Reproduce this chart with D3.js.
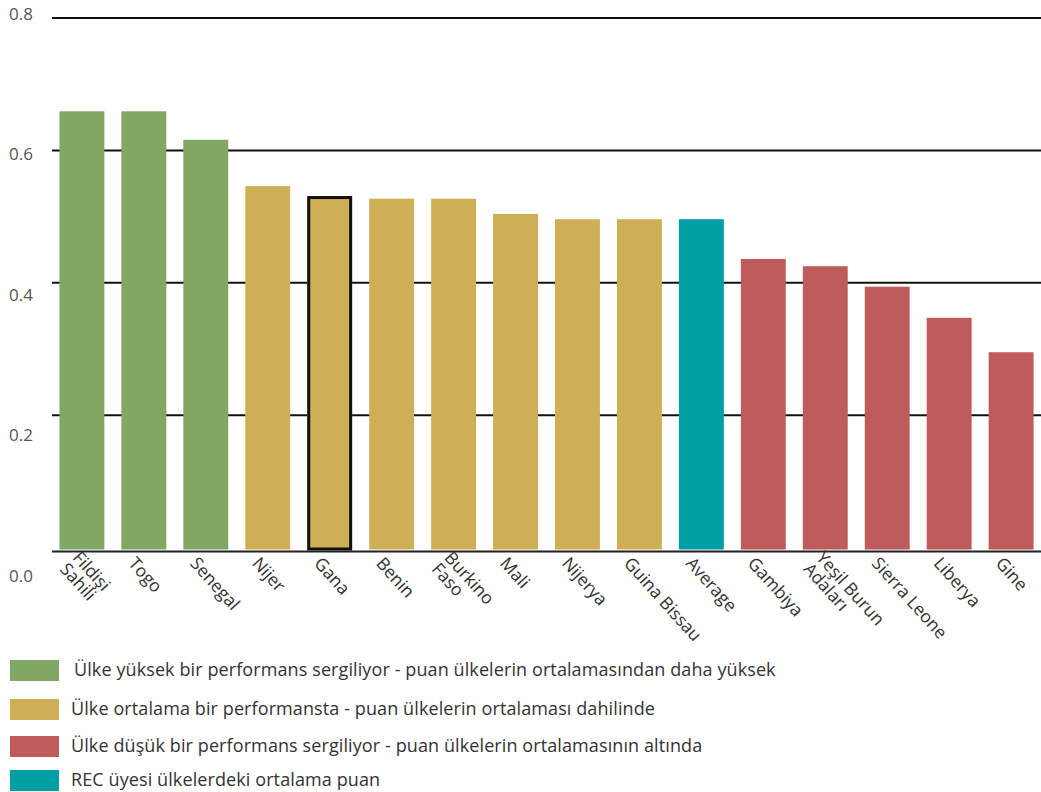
<!DOCTYPE html>
<html>
<head>
<meta charset="utf-8">
<script src="https://cdn.jsdelivr.net/npm/d3@7"></script>
<style>
  html, body { margin: 0; padding: 0; background: #fff; }
  svg { display: block; font-family: "Open Sans", Roboto, sans-serif; }
</style>
</head>
<body>
<svg id="chart" width="1041" height="792"></svg>
<script>
const categories = ["Fildişi Sahili", "Togo", "Senegal", "Nijer", "Gana", "Benin", "Burkino Faso", "Mali", "Nijerya", "Guina Bissau", "Average", "Gambiya", "Yeşil Burun Adaları", "Sierra Leone", "Liberya", "Gine"];
const labelLines = [["Fildişi", "Sahili"], ["Togo"], ["Senegal"], ["Nijer"], ["Gana"], ["Benin"], ["Burkino", "Faso"], ["Mali"], ["Nijerya"], ["Guina Bissau"], ["Average"], ["Gambiya"], ["Yeşil Burun", "Adaları"], ["Sierra Leone"], ["Liberya"], ["Gine"]];
const values = [0.659, 0.659, 0.616, 0.546, 0.531, 0.527, 0.527, 0.504, 0.496, 0.496, 0.496, 0.436, 0.425, 0.394, 0.347, 0.295];
const groups = ["high", "high", "high", "mid", "mid", "mid", "mid", "mid", "mid", "mid", "avg", "low", "low", "low", "low", "low"];
const highlighted = ["Gana"];
const yTicks = [0, 0.2, 0.4, 0.6, 0.8];
const yTickLabels = ["0.0", "0.2", "0.4", "0.6", "0.8"];
const legendKeys = ["high", "mid", "low", "avg"];
const legendLabels = [
  "Ülke yüksek bir performans sergiliyor - puan ülkelerin ortalamasından daha yüksek",
  "Ülke ortalama bir performansta - puan ülkelerin ortalaması dahilinde",
  "Ülke düşük bir performans sergiliyor - puan ülkelerin ortalamasının altında",
  "REC üyesi ülkelerdeki ortalama puan"
];

const colors = d3.scaleOrdinal()
  .domain(["high", "mid", "low", "avg"])
  .range(["#82a764", "#cfaf55", "#be5b5b", "#009fa5"]);

const svg = d3.select("#chart");
const W = 1041;

const x = d3.scaleBand().domain(categories).range([52, W]).paddingInner(0.275).paddingOuter(0.12);
const y = d3.scaleLinear().domain([0, 0.8]).range([547.5, 18]);
// tick labels sit on their own, slightly wider spacing in the original
const yLab = d3.scaleLinear().domain([0, 0.8]).range([577, 15]);

// gridlines
svg.append("g").selectAll("line").data(yTicks.filter(d => d > 0)).join("line")
  .attr("x1", 52).attr("x2", W)
  .attr("y1", d => y(d)).attr("y2", d => y(d))
  .attr("stroke", "#111").attr("stroke-width", 2);

// y tick labels
svg.append("g").selectAll("text").data(yTicks).join("text")
  .attr("x", 9).attr("y", d => yLab(d))
  .attr("dominant-baseline", "middle")
  .attr("font-size", 17).attr("fill", "#555")
  .text((d, i) => yTickLabels[i]);

// bars (they run down to just above the axis line)
const data = categories.map((c, i) => ({ c, v: values[i], g: groups[i], lines: labelLines[i] }));
svg.append("g").selectAll("rect").data(data).join("rect")
  .attr("x", d => x(d.c)).attr("width", x.bandwidth())
  .attr("y", d => y(d.v)).attr("height", d => y(0) - y(d.v) + 2)
  .attr("fill", d => colors(d.g));

// highlighted outline
svg.append("g").selectAll("rect").data(data.filter(d => highlighted.includes(d.c))).join("rect")
  .attr("x", d => x(d.c) + 1.5).attr("width", x.bandwidth() - 3)
  .attr("y", d => y(d.v) + 1.5).attr("height", d => y(0) - y(d.v))
  .attr("fill", "none").attr("stroke", "#111").attr("stroke-width", 3);

// baseline
svg.append("line").attr("x1", 52).attr("x2", W)
  .attr("y1", 551.5).attr("y2", 551.5)
  .attr("stroke", "#222").attr("stroke-width", 2);

// x labels
const lh = 17;
const xl = svg.append("g").selectAll("text").data(data).join("text")
  .attr("transform", d => `translate(${x(d.c) + 6},564) rotate(48)`)
  .attr("font-size", 17.5).attr("fill", "#333");
xl.each(function(d) {
  const n = d.lines.length;
  d3.select(this).selectAll("tspan").data(d.lines).join("tspan")
    .attr("x", 0)
    .attr("y", (l, i) => (i - (n - 1) / 2) * lh)
    .text(l => l);
});

// legend
const lg = svg.append("g").selectAll("g").data(legendKeys).join("g")
  .attr("transform", (d, i) => `translate(10,${[660, 699, 736, 770][i]})`);
lg.append("rect").attr("width", 49).attr("height", 21).attr("fill", d => colors(d));
lg.append("text").attr("x", (d, i) => i === 0 ? 64 : 61).attr("y", 11)
  .attr("dominant-baseline", "middle")
  .attr("font-size", 18).attr("letter-spacing", 0.1).attr("fill", "#333")
  .text((d, i) => legendLabels[i]);
</script>
</body>
</html>
